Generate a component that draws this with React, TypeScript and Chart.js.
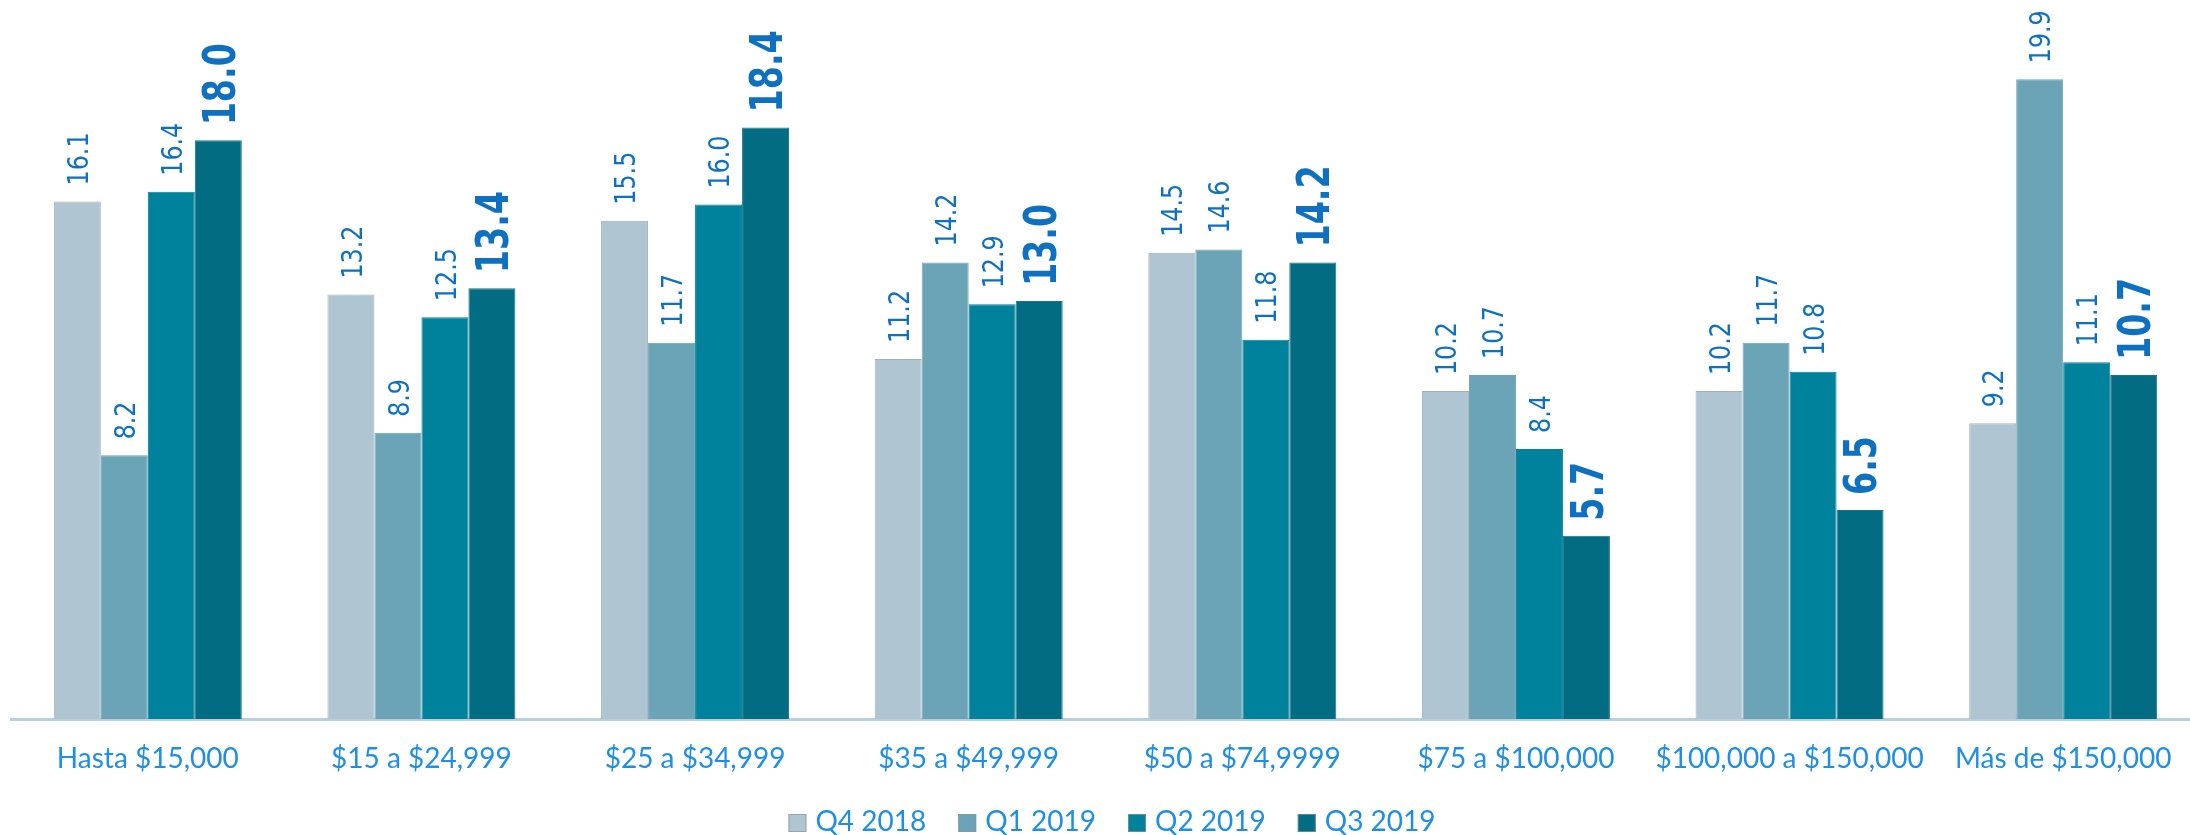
import React, { useEffect, useRef } from "react";
import { Chart, registerables } from "chart.js";

Chart.register(...registerables);

const categories = [
  "Hasta $15,000",
  "$15 a $24,999",
  "$25 a $34,999",
  "$35 a $49,999",
  "$50 a $74,9999",
  "$75 a $100,000",
  "$100,000 a $150,000",
  "Más de $150,000",
];
const seriesNames = ["Q4 2018", "Q1 2019", "Q2 2019", "Q3 2019"];
const q4_2018 = [16.1, 13.2, 15.5, 11.2, 14.5, 10.2, 10.2, 9.2];
const q1_2019 = [8.2, 8.9, 11.7, 14.2, 14.6, 10.7, 11.7, 19.9];
const q2_2019 = [16.4, 12.5, 16.0, 12.9, 11.8, 8.4, 10.8, 11.1];
const q3_2019 = [18.0, 13.4, 18.4, 13.0, 14.2, 5.7, 6.5, 10.7];
const seriesColors = ["#AFC5D2", "#6BA3B7", "#00829C", "#016C82"];
const seriesBorders = ["#A3B3BC", "#6BA3B7", "#00829C", "#1B7386"];
const yMin = 0;
const yMax = 20;

const LABEL_BLUE = "#0E70C0";
const AXIS_BLUE = "#1F8FE5";

const decorPlugin = {
  id: "decor",
  afterDatasetsDraw(chart: any) {
    const ctx = chart.ctx as CanvasRenderingContext2D;
    chart.data.datasets.forEach((ds: any, i: number) => {
      const meta = chart.getDatasetMeta(i);
      const bold = i === 3;
      const size = bold ? 45 : 29;
      const sx = bold ? 0.74 : 0.82;
      const gap = bold ? 15 : 16;
      meta.data.forEach((bar: any, j: number) => {
        const v = ds.data[j] as number;
        ctx.save();
        ctx.font = `${bold ? "bold " : ""}${size}px "DejaVu Sans"`;
        ctx.fillStyle = LABEL_BLUE;
        ctx.textAlign = "left";
        ctx.textBaseline = "alphabetic";
        ctx.translate(bar.x + (size * 0.729) / 2, bar.y - gap);
        ctx.rotate(-Math.PI / 2);
        ctx.scale(sx, 1);
        ctx.fillText(v.toFixed(1), 0, 0);
        ctx.restore();
      });
    });

    // legend
    ctx.save();
    ctx.font = '28px "Lato"';
    const box = 18;
    const boxGap = 9;
    const itemGap = 32;
    const widths = seriesNames.map((n) => box + boxGap + ctx.measureText(n).width);
    const total = widths.reduce((a, b) => a + b, 0) + itemGap * (seriesNames.length - 1);
    let x = 1112 - total / 2;
    seriesNames.forEach((n, i) => {
      ctx.fillStyle = seriesColors[i];
      ctx.fillRect(x, 814, box, box);
      ctx.strokeStyle = "rgba(140,150,155,0.7)";
      ctx.lineWidth = 1;
      ctx.strokeRect(x + 0.5, 814.5, box - 1, box - 1);
      ctx.fillStyle = AXIS_BLUE;
      ctx.textAlign = "left";
      ctx.textBaseline = "alphabetic";
      ctx.fillText(n, x + box + boxGap, 831);
      x += widths[i] + itemGap;
    });
    ctx.restore();
  },
};

export default function App() {
  const ref = useRef<HTMLCanvasElement | null>(null);

  useEffect(() => {
    if (!ref.current) return;
    const series = [q4_2018, q1_2019, q2_2019, q3_2019];
    const chart = new Chart(ref.current, {
      type: "bar",
      data: {
        labels: categories,
        datasets: series.map((d, i) => ({
          label: seriesNames[i],
          data: d,
          backgroundColor: seriesColors[i],
          borderColor: seriesBorders[i],
          borderWidth: 1,
          categoryPercentage: 0.687,
          barPercentage: 1.0,
        })),
      },
      options: {
        responsive: false,
        animation: false,
        layout: { padding: { left: 11, right: 15, top: 76, bottom: 0 } },
        plugins: {
          legend: { display: false },
          tooltip: { enabled: false },
        },
        scales: {
          x: {
            grid: { display: false, drawTicks: false },
            border: { display: true, color: "#B7CFE3", width: 3 },
            ticks: {
              autoSkip: false,
              maxRotation: 0,
              minRotation: 0,
              padding: 23,
              color: AXIS_BLUE,
              font: { family: "Lato", size: 28, lineHeight: 1.2 },
            },
            afterFit: (s: any) => {
              s.height = 116;
            },
          },
          y: {
            display: false,
            min: yMin,
            max: yMax,
          },
        },
      },
      plugins: [decorPlugin],
    });
    return () => chart.destroy();
  }, []);

  return (
    <div
      style={{
        position: "fixed",
        left: 0,
        top: 0,
        width: 2190,
        height: 835,
        overflow: "hidden",
        background: "#fff",
      }}
    >
      <canvas ref={ref} width={2215} height={835} style={{ display: "block", width: 2215, height: 835 }} />
    </div>
  );
}
